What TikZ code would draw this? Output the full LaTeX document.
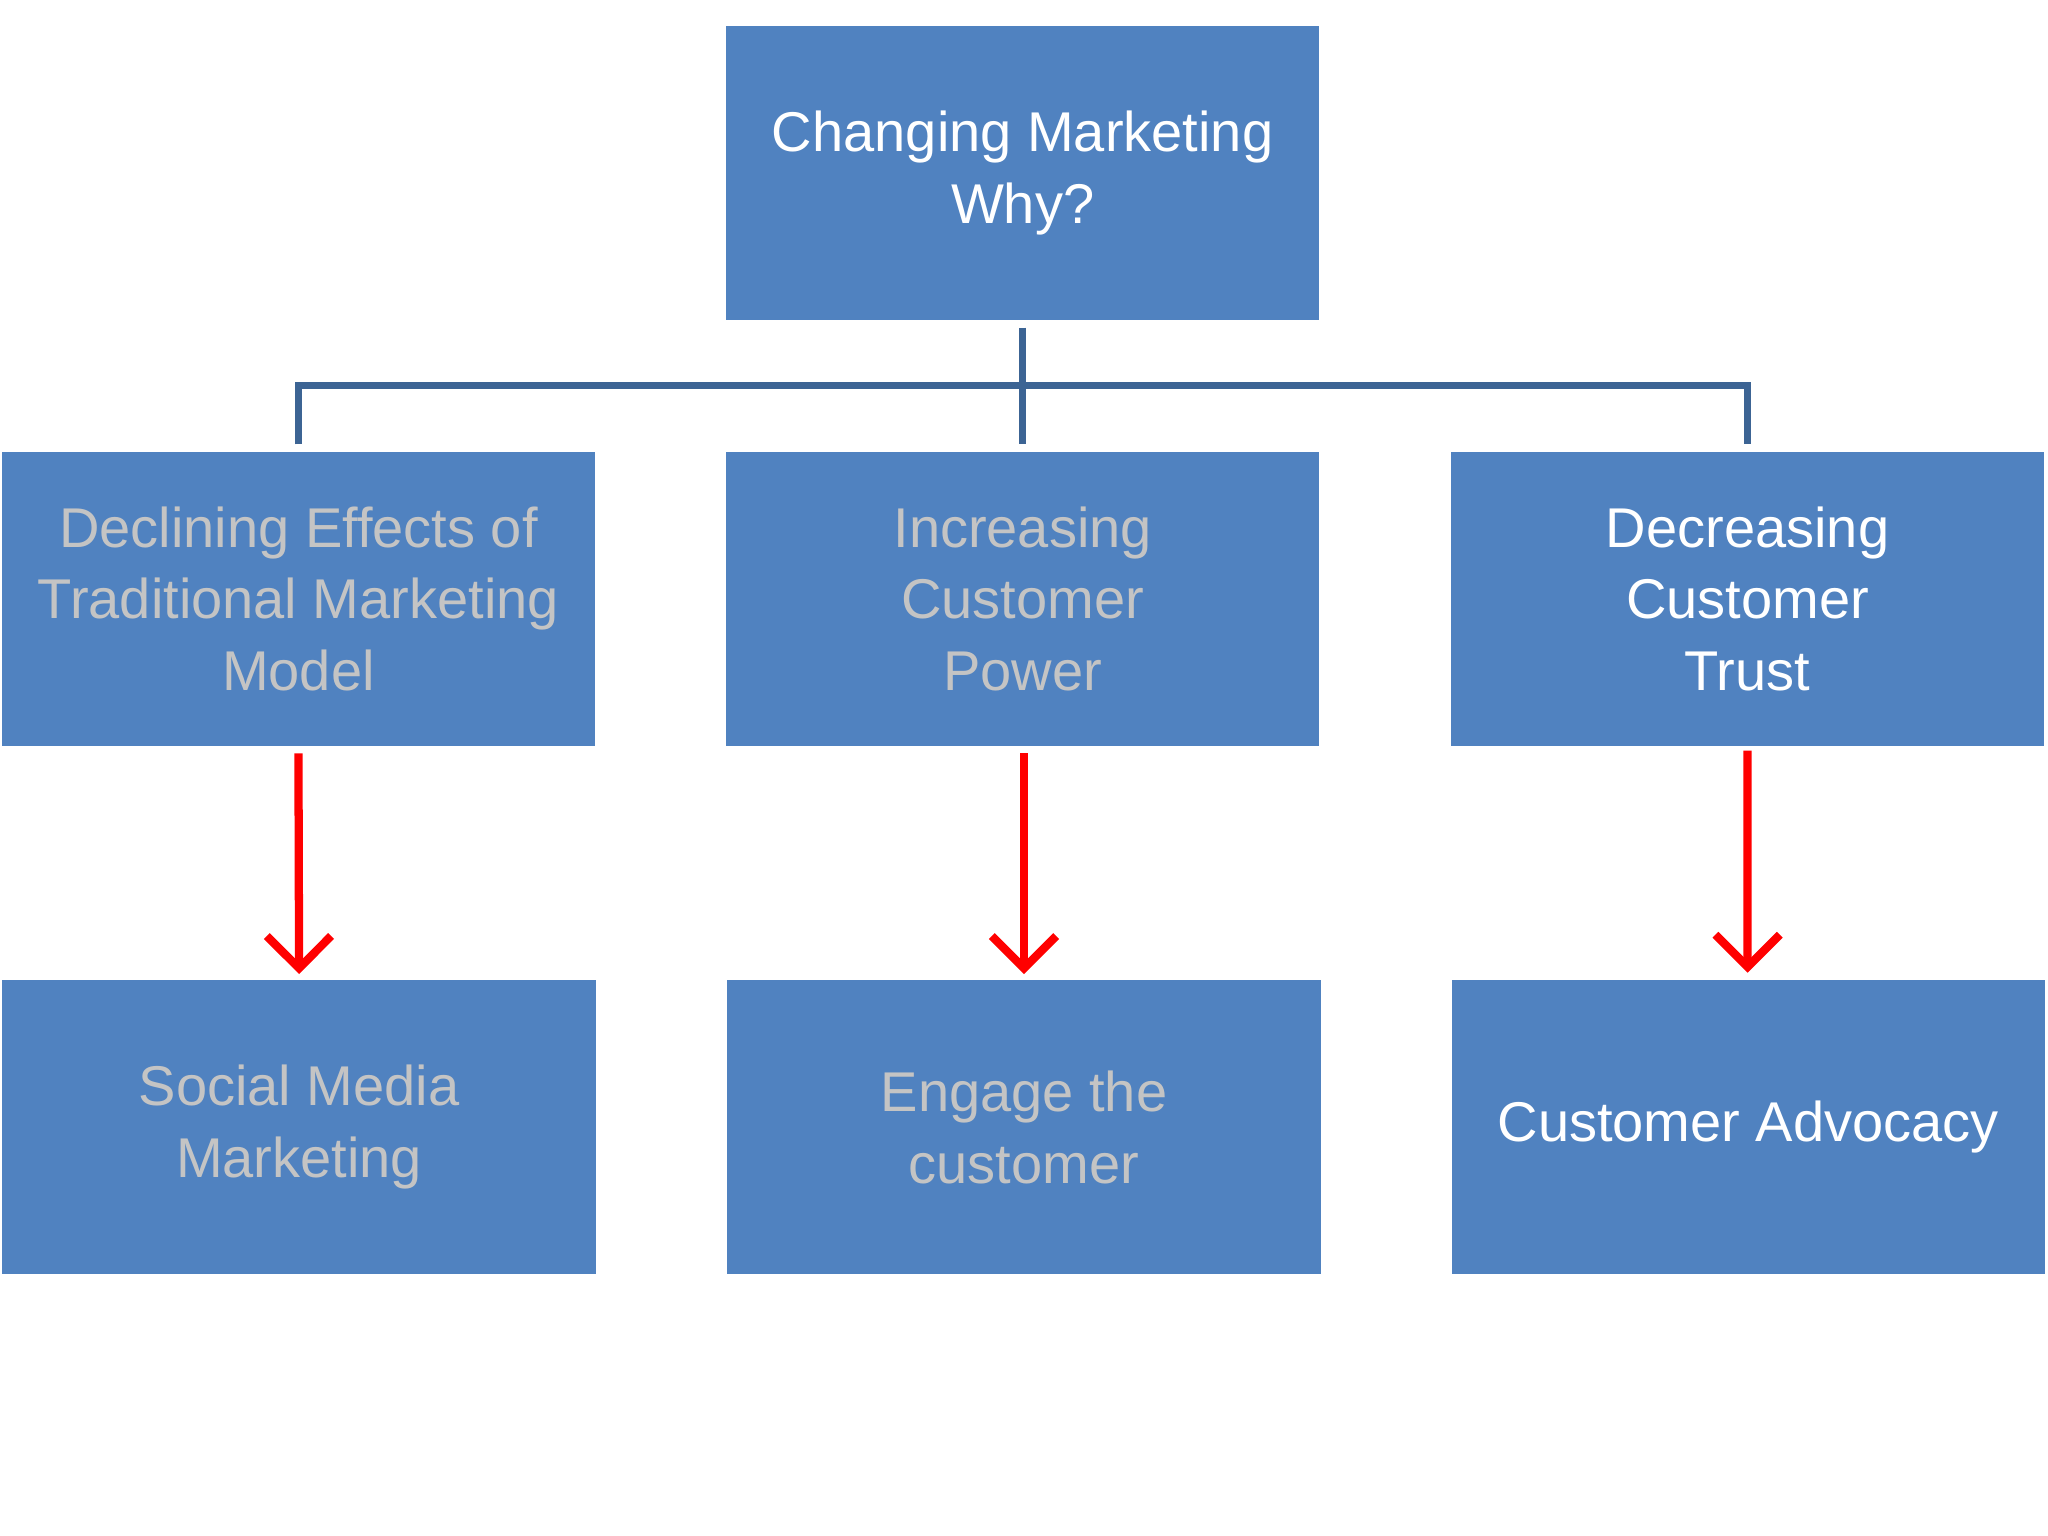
\documentclass[tikz,border=0pt]{standalone}
\usepackage{fontspec}
\setmainfont{Liberation Sans}
\usetikzlibrary{arrows.meta}
\definecolor{boxc}{HTML}{5082C0}
\definecolor{linec}{HTML}{3C6494}
\definecolor{greyt}{HTML}{C4C4C4}
\begin{document}
\begin{tikzpicture}[x=0.01cm,y=-0.01cm,
  box/.style={fill=boxc,draw=none,minimum width=4.54cm,minimum height=2.25cm,align=center,inner sep=0pt,
    font=\fontsize{12.2}{15.6}\selectfont},
  wt/.style={text=white},
  gt/.style={text=greyt},
  conn/.style={draw=linec,line width=1.6pt},
  arr/.style={draw=red,line width=1.8pt,-{Straight Barb[length=7pt,width=14pt,line width=1.8pt]}}]
\useasboundingbox (0,0) rectangle (1568,1176);
\node[box,wt] (top) at (783,132.5) {Changing Marketing\\Why?};
\node[box,gt] (m1) at (228.5,458.5) {Declining Effects of\\Traditional Marketing\\Model};
\node[box,gt] (m2) at (783,458.5) {Increasing\\Customer\\Power};
\node[box,wt] (m3) at (1338,458.5) {Decreasing\\Customer\\Trust};
\node[box,gt] (b1) at (229,863) {Social Media\\Marketing};
\node[box,gt] (b2) at (784,863) {Engage the\\customer};
\node[box,wt] (b3) at (1338.5,863) {Customer Advocacy};
\coordinate (h) at (783,295);
\draw[conn] ([yshift=-0.05cm]top.south) -- (h);
\draw[conn] ([yshift=0.05cm]m1.north) |- (h) -| ([yshift=0.05cm]m3.north);
\draw[conn] (h) -- ([yshift=0.05cm]m2.north);
\draw[arr] ([yshift=-0.05cm]m1.south) -- ([yshift=0.04cm]b1.north);
\draw[arr] ([xshift=0.01cm,yshift=-0.05cm]m2.south) -- ([yshift=0.04cm]b2.north);
\draw[arr] ([yshift=-0.03cm]m3.south) -- ([xshift=-0.005cm,yshift=0.05cm]b3.north);
\end{tikzpicture}
\end{document}
